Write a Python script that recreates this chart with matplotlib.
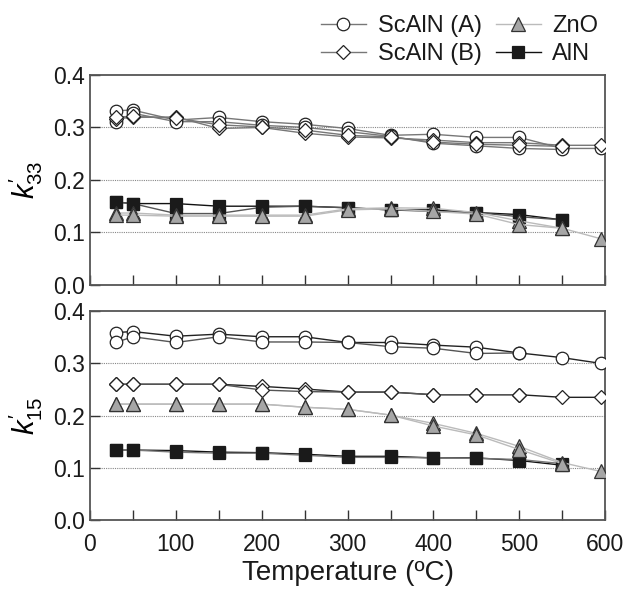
import matplotlib
matplotlib.use("Agg")
import matplotlib.pyplot as plt
from matplotlib.lines import Line2D

plt.rcParams['font.family'] = ['Liberation Sans', 'DejaVu Sans']
plt.rcParams['mathtext.fontset'] = 'custom'
plt.rcParams['mathtext.rm'] = 'Liberation Sans'
plt.rcParams['mathtext.it'] = 'Liberation Sans:italic'

# ---------------- data ----------------
temps = [30, 50, 100, 150, 200, 250, 300, 350, 400, 450, 500, 550, 595]

# k33'
scaln_a_33_run1 = [0.332, 0.333, 0.314, 0.319, 0.311, 0.306, 0.298, 0.285, 0.287, 0.281, 0.281, 0.260, 0.260]
scaln_a_33_run2 = [0.310, 0.327, 0.311, 0.311, 0.304, 0.300, 0.292, 0.283, 0.270, 0.265, 0.260, 0.258]
scaln_b_33_run1 = [0.317, 0.319, 0.320, 0.298, 0.300, 0.289, 0.282, 0.280, 0.276, 0.271, 0.271, 0.266, 0.266]
scaln_b_33_run2 = [0.320, 0.321, 0.318, 0.305, 0.301, 0.295, 0.285, 0.282, 0.272, 0.268, 0.266, 0.264]
zno_33_run1 = [0.137, 0.137, 0.133, 0.133, 0.133, 0.133, 0.145, 0.147, 0.146, 0.138, 0.122, 0.108, 0.088]
zno_33_run2 = [0.133, 0.133, 0.131, 0.131, 0.131, 0.131, 0.143, 0.145, 0.140, 0.135, 0.115, 0.108]
aln_33_run1 = [0.158, 0.155, 0.155, 0.150, 0.150, 0.150, 0.147, 0.143, 0.143, 0.138, 0.134, 0.124]
aln_33_run2 = [0.158, 0.155, 0.136, 0.136, 0.148, 0.150, 0.147, 0.143, 0.140, 0.138, 0.130, 0.124]

# k15'
scaln_a_15_run1 = [0.359, 0.361, 0.352, 0.356, 0.351, 0.351, 0.340, 0.340, 0.335, 0.331, 0.320, 0.311, 0.300]
scaln_a_15_run2 = [0.340, 0.351, 0.340, 0.351, 0.341, 0.341, 0.340, 0.332, 0.329, 0.319, 0.320]
scaln_b_15_run1 = [0.260, 0.260, 0.260, 0.260, 0.256, 0.251, 0.245, 0.245, 0.240, 0.240, 0.240, 0.235, 0.235]
scaln_b_15_run2 = [0.260, 0.260, 0.260, 0.260, 0.249, 0.246, 0.245, 0.245, 0.240, 0.240, 0.240]
zno_15_run1 = [0.222, 0.222, 0.222, 0.222, 0.222, 0.216, 0.212, 0.201, 0.185, 0.166, 0.141, 0.110, 0.093]
zno_15_run2 = [0.222, 0.222, 0.222, 0.222, 0.222, 0.216, 0.212, 0.201, 0.180, 0.163, 0.135, 0.108]
aln_15_run1 = [0.134, 0.134, 0.133, 0.130, 0.129, 0.126, 0.122, 0.122, 0.119, 0.119, 0.114, 0.105]
aln_15_run2 = [0.134, 0.134, 0.130, 0.128, 0.128, 0.124, 0.120, 0.120, 0.119, 0.118, 0.116, 0.108]

labels = ["ScAlN (A)", "ScAlN (B)", "ZnO", "AlN"]
x_ticks = [0, 100, 200, 300, 400, 500, 600]
y_ticks = [0.0, 0.1, 0.2, 0.3, 0.4]

# ---------------- styles ----------------
st_a = dict(marker='o', ms=9, mfc='white', mec='#222222', mew=0.9)
st_b = dict(marker='D', ms=7, mfc='white', mec='#222222', mew=0.9)
st_z = dict(marker='^', ms=10, mfc='#a6a6a6', mec='#333333', mew=0.9)
st_n = dict(marker='s', ms=9, mfc='#1a1a1a', mec='#1a1a1a', mew=0.9)

fig = plt.figure(figsize=(6.36, 5.90), dpi=100)
ax1 = fig.add_axes([0.1415, 0.517, 0.810, 0.356])
ax2 = fig.add_axes([0.1415, 0.1186, 0.810, 0.354])


def series(ax, vals, style, color, lw, z):
    ax.plot(temps[:len(vals)], vals, color=color, lw=lw, zorder=z, **style)


# top panel
series(ax1, scaln_a_33_run1, st_a, '#777777', 1.0, 3)
series(ax1, scaln_a_33_run2, st_a, '#777777', 1.0, 3)
series(ax1, scaln_b_33_run1, st_b, '#777777', 1.0, 3)
series(ax1, scaln_b_33_run2, st_b, '#777777', 1.0, 3)
series(ax1, aln_33_run1, st_n, '#111111', 1.0, 3)
series(ax1, aln_33_run2, st_n, '#555555', 1.0, 3)
series(ax1, zno_33_run1, st_z, '#bbbbbb', 1.0, 4)
series(ax1, zno_33_run2, st_z, '#bbbbbb', 1.0, 4)

# bottom panel
series(ax2, scaln_a_15_run1, st_a, '#222222', 1.0, 3)
series(ax2, scaln_a_15_run2, st_a, '#555555', 1.0, 3)
series(ax2, scaln_b_15_run1, st_b, '#222222', 1.0, 3)
series(ax2, scaln_b_15_run2, st_b, '#555555', 1.0, 3)
series(ax2, aln_15_run1, st_n, '#111111', 1.0, 3)
series(ax2, aln_15_run2, st_n, '#777777', 1.0, 3)
series(ax2, zno_15_run1, st_z, '#bbbbbb', 1.0, 4)
series(ax2, zno_15_run2, st_z, '#bbbbbb', 1.0, 4)

for ax in (ax1, ax2):
    ax.set_xlim(0, 600)
    ax.set_ylim(0, 0.4)
    ax.set_yticks(y_ticks)
    ax.set_yticklabels([f"{v:.1f}" for v in y_ticks])
    ax.set_xticks(list(range(0, 601, 50)))
    for y in y_ticks[1:4]:
        ax.axhline(y, color='#888888', lw=0.8, ls=(0, (1, 1)), zorder=1)
    ax.tick_params(direction='in', length=7, width=1, labelsize=16.5, color='#333333',
                   labelcolor='#1a1a1a')
    for sp in ax.spines.values():
        sp.set_color('#555555')
        sp.set_linewidth(1.3)

ax1.set_xticklabels([])
ax2.set_xticklabels([str(t) if t % 100 == 0 else '' for t in range(0, 601, 50)])
ax2.tick_params(axis='x', pad=9)

ax1.set_ylabel(r"$k_{33}^{\prime}$", fontsize=21, labelpad=6)
ax2.set_ylabel(r"$k_{15}^{\prime}$", fontsize=21, labelpad=6)
ax2.set_xlabel("Temperature (ºC)", fontsize=20, labelpad=3, color='#1a1a1a')

handles = [
    Line2D([], [], color='#777777', lw=1.0, **st_a),
    Line2D([], [], color='#777777', lw=1.0, **st_b),
    Line2D([], [], color='#bbbbbb', lw=1.0, **st_z),
    Line2D([], [], color='#111111', lw=1.0, **st_n),
]
fig.legend(handles, labels, loc='upper right', bbox_to_anchor=(0.965, 1.0), ncol=2,
           frameon=False, fontsize=17, handlelength=1.9, handletextpad=0.5,
           columnspacing=0.6, labelspacing=0.25, borderaxespad=0.25,
           labelcolor='#1a1a1a')

fig.savefig("out.png", dpi=100)
